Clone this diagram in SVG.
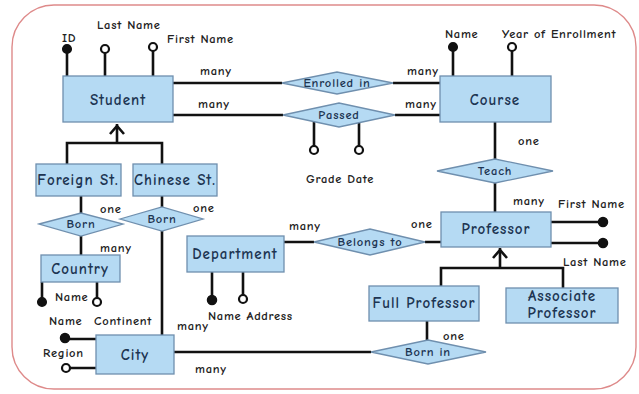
<svg xmlns="http://www.w3.org/2000/svg" width="639" height="394" viewBox="0 0 639 394">
  <style>
    .ent { fill: #b5daf3; stroke: #6f8fae; stroke-width: 1.3; }
    .rel { fill: #b5daf3; stroke: #6f8fae; stroke-width: 1.3; }
    .ln { fill: none; stroke: #111; stroke-width: 2.6; }
    .key { fill: #111; stroke: #111; stroke-width: 1.5; }
    .opt { fill: #fff; stroke: #111; stroke-width: 2.2; }
    text { font-family: "Comic Sans MS", "Comic Neue", "Noto Sans", "DejaVu Sans", sans-serif; font-weight: bold; }
    .et { fill: #1d3552; font-size: 15px; text-anchor: middle; letter-spacing: 1px; }
    .rt { fill: #1d3552; font-size: 12.5px; text-anchor: middle; letter-spacing: 0.8px; }
    .lb { fill: #222; font-size: 12.5px; letter-spacing: 0.7px; }
  </style>

  <!-- frame -->
  <rect x="12" y="5" width="624" height="384" rx="42" ry="42" fill="#fff" stroke="#de8a8a" stroke-width="1.4"/>

  <g id="connectors">
    <!-- Student - Enrolled in / Passed - Course -->
    <path class="ln" d="M173 83H282M393 83H440"/>
    <path class="ln" d="M173 115H283M395 115H440"/>
    <!-- Passed attributes -->
    <path class="ln" d="M314 120V146M359 120V146"/>
    <!-- Student attributes -->
    <path class="ln" d="M67 50V76M105 52V76M153 50V76"/>
    <!-- Course attributes -->
    <path class="ln" d="M453 48V76M512 50V76"/>
    <!-- Course - Teach - Professor -->
    <path class="ln" d="M495 122V160M495 183V212"/>
    <!-- Professor attributes -->
    <path class="ln" d="M551 222H603M551 243H603"/>
    <!-- Professor specialisation -->
    <path class="ln" d="M441 286V268H563V288M500 268V248"/>
    <path class="ln" d="M493 258L500 250L507 258"/>
    <!-- Student specialisation -->
    <path class="ln" d="M67 164V143H162V164M117 143V124"/>
    <path class="ln" d="M110 134L117 126L124 134"/>
    <!-- Foreign St. - Born - Country -->
    <path class="ln" d="M81 196V213M81 236V255"/>
    <!-- Chinese St. - Born - City -->
    <path class="ln" d="M162 196V207M162 231V335"/>
    <!-- Country attributes -->
    <path class="ln" d="M42 282V300M97 282V298"/>
    <!-- City attributes -->
    <path class="ln" d="M65 339H96M68 368H96"/>
    <!-- City - Born in - Full Professor -->
    <path class="ln" d="M174 352H371M427 321V340"/>
    <!-- Department - Belongs to - Professor -->
    <path class="ln" d="M284 242H314M425 242H441"/>
    <!-- Department attributes -->
    <path class="ln" d="M212 272V298M243 272V296"/>
  </g>

  <!-- attribute markers -->
  <g id="attr-markers">
    <circle class="key" cx="67" cy="49" r="4.3"/>
    <circle class="opt" cx="105" cy="49" r="4"/>
    <circle class="opt" cx="153" cy="47" r="4"/>
    <circle class="key" cx="453" cy="47" r="4.3"/>
    <circle class="opt" cx="512" cy="47" r="4"/>
    <circle class="opt" cx="314" cy="150" r="4"/>
    <circle class="opt" cx="359" cy="150" r="4"/>
    <circle class="key" cx="603" cy="222" r="4.5"/>
    <circle class="key" cx="603" cy="243" r="4.5"/>
    <circle class="key" cx="42" cy="302" r="4.3"/>
    <circle class="opt" cx="97" cy="302" r="4" stroke-width="1.2"/>
    <circle class="key" cx="65" cy="338" r="4.5"/>
    <circle class="opt" cx="66" cy="368" r="4"/>
    <circle class="key" cx="212" cy="300" r="4.5"/>
    <circle class="opt" cx="243" cy="299" r="4"/>
  </g>

  <g id="student">
    <rect class="ent" x="63" y="76" width="110" height="46"/>
    <text class="et" x="118" y="105" font-size="17.5">Student</text>
  </g>
  <g id="course">
    <rect class="ent" x="440" y="76" width="111" height="46"/>
    <text class="et" x="495" y="105" font-size="17.5">Course</text>
  </g>
  <g id="enrolled-in">
    <polygon class="rel" points="282,83 337,72 393,83 337,94"/>
    <text class="rt" x="337" y="87">Enrolled in</text>
  </g>
  <g id="passed">
    <polygon class="rel" points="283,115 339,103 395,115 339,127"/>
    <text class="rt" x="339" y="119">Passed</text>
  </g>
  <g id="teach">
    <polygon class="rel" points="437,171 495,159 553,171 495,183"/>
    <text class="rt" x="495" y="175">Teach</text>
  </g>
  <g id="professor">
    <rect class="ent" x="441" y="212" width="110" height="35"/>
    <text class="et" x="496" y="234" font-size="13">Professor</text>
  </g>
  <g id="foreign-st">
    <rect class="ent" x="36" y="164" width="85" height="32"/>
    <text class="et" x="78" y="185" font-size="14">Foreign St.</text>
  </g>
  <g id="chinese-st">
    <rect class="ent" x="133" y="164" width="84" height="32"/>
    <text class="et" x="175" y="185" font-size="14">Chinese St.</text>
  </g>
  <g id="born-country">
    <polygon class="rel" points="39,224 81,213 123,224 81,236"/>
    <text class="rt" x="81" y="228" font-size="12">Born</text>
  </g>
  <g id="born-city">
    <polygon class="rel" points="120,219 162,207 203,219 162,231"/>
    <text class="rt" x="162" y="223" font-size="12">Born</text>
  </g>
  <g id="country">
    <rect class="ent" x="41" y="255" width="79" height="27"/>
    <text class="et" x="80" y="274" font-size="14">Country</text>
  </g>
  <g id="department">
    <rect class="ent" x="187" y="236" width="97" height="36"/>
    <text class="et" x="235" y="259" font-size="14.5">Department</text>
  </g>
  <g id="belongs-to">
    <polygon class="rel" points="314,242 370,229 425,242 370,255"/>
    <text class="rt" x="370" y="246">Belongs to</text>
  </g>
  <g id="full-professor">
    <rect class="ent" x="369" y="286" width="110" height="35"/>
    <text class="et" x="424" y="308" font-size="14">Full Professor</text>
  </g>
  <g id="associate-professor">
    <rect class="ent" x="506" y="288" width="112" height="35"/>
    <text class="et" x="562" y="301" font-size="14">Associate</text>
    <text class="et" x="562" y="318" font-size="14">Professor</text>
  </g>
  <g id="born-in">
    <polygon class="rel" points="371,352 428,340 486,352 428,364"/>
    <text class="rt" x="428" y="356">Born in</text>
  </g>
  <g id="city">
    <rect class="ent" x="96" y="335" width="78" height="39"/>
    <text class="et" x="135" y="360" font-size="15.5">City</text>
  </g>

  <g id="labels">
    <text class="lb" x="62" y="42">ID</text>
    <text class="lb" x="97" y="29">Last Name</text>
    <text class="lb" x="167" y="43">First Name</text>
    <text class="lb" x="200" y="75">many</text>
    <text class="lb" x="198" y="108">many</text>
    <text class="lb" x="407" y="75">many</text>
    <text class="lb" x="405" y="108">many</text>
    <text class="lb" x="306" y="183">Grade Date</text>
    <text class="lb" x="445" y="38">Name</text>
    <text class="lb" x="502" y="38">Year of Enrollment</text>
    <text class="lb" x="518" y="145">one</text>
    <text class="lb" x="513" y="205">many</text>
    <text class="lb" x="558" y="208">First Name</text>
    <text class="lb" x="563" y="266">Last Name</text>
    <text class="lb" x="411" y="228">one</text>
    <text class="lb" x="289" y="230">many</text>
    <text class="lb" x="208" y="320">Name Address</text>
    <text class="lb" x="443" y="340">one</text>
    <text class="lb" x="177" y="330">many</text>
    <text class="lb" x="195" y="373">many</text>
    <text class="lb" x="49" y="325">Name</text>
    <text class="lb" x="94" y="325">Continent</text>
    <text class="lb" x="43" y="357">Region</text>
    <text class="lb" x="55" y="301">Name</text>
    <text class="lb" x="100" y="213">one</text>
    <text class="lb" x="100" y="252">many</text>
    <text class="lb" x="193" y="212">one</text>
  </g>
</svg>
